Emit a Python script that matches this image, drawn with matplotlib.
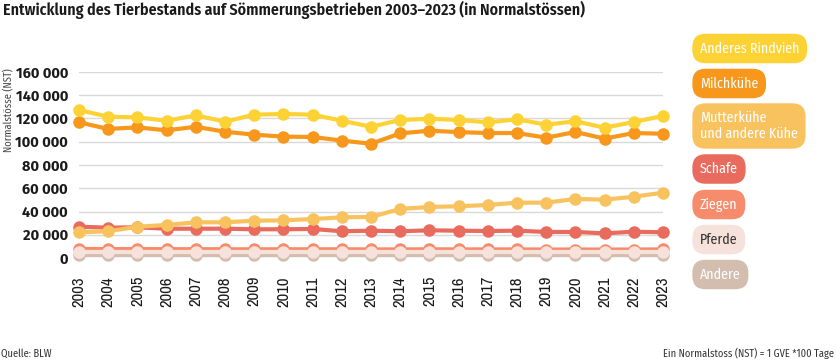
import matplotlib
matplotlib.use("Agg")
import matplotlib.pyplot as plt
from matplotlib import font_manager
from matplotlib.ticker import FuncFormatter

years = list(range(2003, 2024))

anderes_rindvieh = [127300, 121500, 121000, 118100, 122700, 117300, 123300, 123900, 123300, 118100,
                    112900, 118700, 119800, 118700, 116700, 119300, 114700, 117600, 112100, 117000, 122200]
milchkuehe = [116700, 111000, 112400, 109800, 112900, 108600, 106100, 104400, 104100, 101000,
              98300, 107200, 109500, 108300, 107500, 107500, 103500, 108400, 102700, 107500, 106900]
mutterkuehe = [22100, 23000, 26900, 28400, 30700, 30700, 32100, 32400, 33500, 35000,
               35300, 42200, 43900, 44500, 45600, 47600, 47600, 50800, 50200, 52700, 56200]
schafe = [26900, 26100, 26400, 25200, 25200, 25200, 24700, 24700, 25000, 23000,
          23500, 23000, 23800, 23500, 23200, 23500, 22400, 22400, 21200, 22600, 22100]
ziegen = [7800, 7700, 7700, 7600, 7600, 7500, 7500, 7500, 7500, 7500,
          7400, 7400, 7500, 7400, 7400, 7400, 7300, 7300, 7300, 7300, 7400]
pferde = [5200, 5200, 5200, 5200, 5200, 5200, 5200, 5200, 5200, 5200,
          5200, 5200, 5200, 5200, 5200, 5200, 5200, 5200, 5200, 5200, 5200]
andere = [3000, 3000, 3000, 3000, 3000, 3000, 3000, 3000, 3000, 3000,
          3000, 3000, 3000, 3000, 3000, 3000, 3000, 3000, 3000, 3000, 3000]

series = [
    ("Anderes Rindvieh", anderes_rindvieh, "#fdd235", "white", 7),
    ("Milchkühe", milchkuehe, "#f7971b", "white", 6),
    ("Mutterkühe\nund andere Kühe", mutterkuehe, "#f8c35f", "white", 5),
    ("Schafe", schafe, "#e96b5e", "white", 4),
    ("Ziegen", ziegen, "#f78c6c", "white", 2),
    ("Pferde", pferde, "#f6e2db", "#333333", 3),
    ("Andere", andere, "#d3bdaf", "white", 1),
]

installed = {f.name for f in font_manager.fontManager.ttflist}


def pick(*cands):
    for c in cands:
        if c in installed:
            return [c, "DejaVu Sans"]
    return ["DejaVu Sans"]


text_font = pick("Fira Sans Condensed", "Roboto Condensed", "Archivo Narrow", "Liberation Sans Narrow", "Roboto")
year_font = pick("Liberation Sans Narrow", "Arimo Narrow", "Archivo Narrow", "Roboto Condensed", "Roboto")
ytick_font = pick("Fira Sans", "Liberation Sans", "Arimo", "Roboto")
plt.rcParams['font.family'] = text_font

fig = plt.figure(figsize=(8.36, 3.64), dpi=100)
ax = fig.add_axes([79 / 836, 1 - 258 / 364, (663 - 79) / 836, (258 - 72) / 364])

for name, vals, col, tcol, z in series:
    ax.plot(years, vals, color=col, lw=3, marker='o', ms=8, mec=col, mfc=col,
            zorder=z + 2, clip_on=False, solid_capstyle='round')

ax.set_xlim(2003, 2023)
ax.set_ylim(0, 160000)
ax.set_yticks(range(0, 160001, 20000))
ax.yaxis.set_major_formatter(FuncFormatter(lambda v, p: f"{int(v):,}".replace(",", " ")))
ax.set_xticks(years)
ax.set_xticklabels([str(y) for y in years], rotation=90, fontsize=12, fontweight='bold',
                   color='#1a1a1a', family=year_font)
for lab in ax.get_yticklabels():
    lab.set_fontsize(10.5)
    lab.set_fontweight('bold')
    lab.set_family(ytick_font)
    lab.set_color('#1a1a1a')
ax.tick_params(length=0, pad=8)
ax.tick_params(axis='x', pad=13)
ax.grid(axis='y', color='#d9d9d9', lw=1)
ax.set_axisbelow(True)
for s in ax.spines.values():
    s.set_visible(False)

fig.text(3 / 836, 1 - 10 / 364, "Entwicklung des Tierbestands auf Sömmerungsbetrieben 2003–2023 (in Normalstössen)",
         fontsize=11.5, fontweight='semibold', color='#1a1a1a', va='center', ha='left')
fig.text(8 / 836, 1 - 110 / 364, "Normalstösse (NST)", rotation=90, fontsize=7.5,
         color='#444444', va='center', ha='center')
fig.text(1 / 836, 1 - 354 / 364, "Quelle: BLW", fontsize=7.5, color='#333333', va='center', ha='left')
fig.text(834 / 836, 1 - 354 / 364, "Ein Normalstoss (NST) = 1 GVE *100 Tage", fontsize=7.5,
         color='#333333', va='center', ha='right')

# legend as pills
pill_y = [48.5, 83.5, 126, 169, 204.5, 239.5, 274.5]
for (name, vals, col, tcol, z), py in zip(series, pill_y):
    fig.text(700 / 836, 1 - py / 364, name, fontsize=10, color=tcol, va='center', ha='left',
             linespacing=1.15,
             bbox=dict(boxstyle='round,pad=0.55,rounding_size=0.95', fc=col, ec='none'))

fig.savefig("out.png", dpi=100)
